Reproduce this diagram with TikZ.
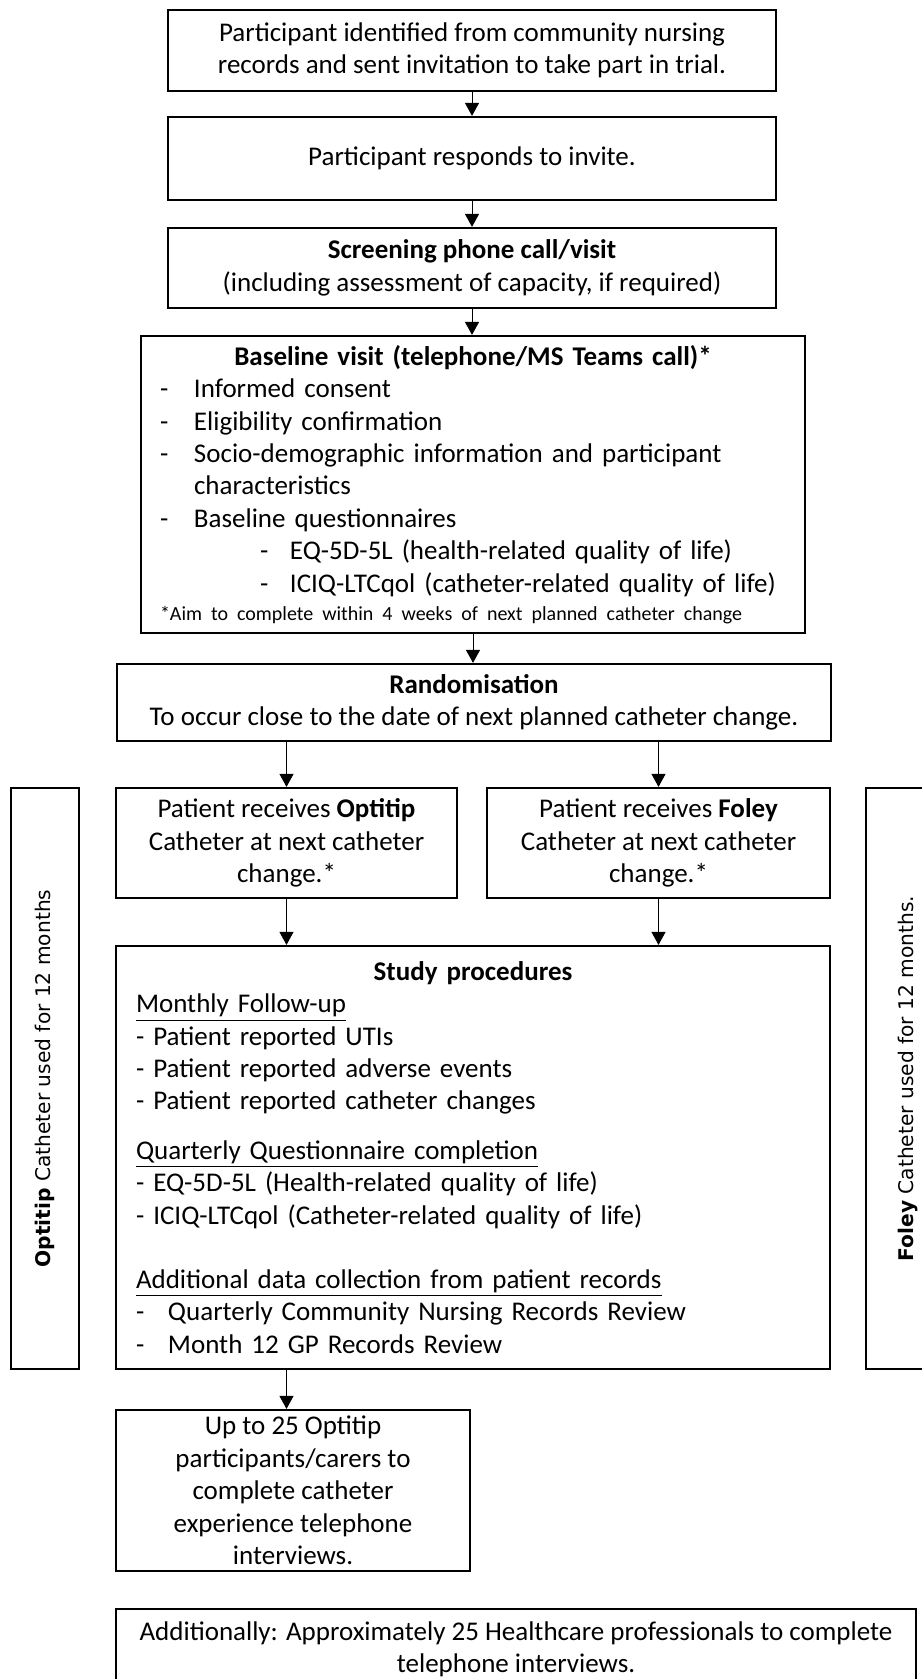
\documentclass[tikz,border=0pt]{standalone}
\usepackage{fontspec}
\setmainfont{Carlito}
\newfontfamily\sidefont{DejaVu Sans}
\usetikzlibrary{arrows.meta}

% пункт списка с дефисом
\newcommand{\dashitem}[3]{\par\hangindent=\dimexpr#1+#2\relax\hangafter=1\noindent\hspace*{#1}\makebox[#2][l]{-}#3}

\tikzset{
  stage/.style={draw, line width=1.1pt, align=center, inner sep=0pt,
    font=\fontsize{13.5}{16.2}\selectfont},
  side/.style={stage, rotate=90, font=\sidefont\fontsize{10.1}{12}\selectfont},
  arr/.style={-{Triangle[width=7pt,length=6.5pt]}, line width=0.5pt}
}

\begin{document}
\begin{tikzpicture}[x=0.5pt, y=-0.5pt]
\useasboundingbox (0,0) rectangle (921,1679);

% блоки
\node[stage, minimum width=304pt, minimum height=40.5pt] (first) at (472,50.5)
  {Participant identified from community nursing\\records and sent invitation to take part in trial.};
\node[stage, minimum width=304pt, minimum height=41.5pt] (respond) at (472,158.5)
  {Participant responds to invite.};
\node[stage, minimum width=304pt, minimum height=40pt] (screen) at (472,268)
  {\textbf{Screening phone call/visit}\\(including assessment of capacity, if required)};

\node[stage, text width=313pt, inner xsep=9.5pt, minimum height=148.5pt, align=left] (baseline) at (473,484.5) {%
  {\centering\textbf{Baseline visit (telephone/MS Teams call)*}\par}
  \dashitem{0pt}{17pt}{Informed consent}
  \dashitem{0pt}{17pt}{Eligibility confirmation}
  \dashitem{0pt}{17pt}{Socio-demographic information and participant\newline characteristics}
  \dashitem{0pt}{17pt}{Baseline questionnaires}
  \dashitem{50pt}{15pt}{EQ-5D-5L (health-related quality of life)}
  \dashitem{50pt}{15pt}{ICIQ-LTCqol (catheter-related quality of life)}
  \par{\fontsize{10}{14}\selectfont *Aim to complete within 4 weeks of next planned catheter change\par}};

\node[stage, minimum width=357pt, minimum height=38.5pt] (random) at (474,702.5)
  {\textbf{Randomisation}\\To occur close to the date of next planned catheter change.};

\node[stage, minimum width=170.5pt, minimum height=55pt] (optitip) at (286.5,843)
  {Patient receives \textbf{Optitip}\\Catheter at next catheter\\change.*};
\node[stage, minimum width=171.5pt, minimum height=55pt] (foley) at (658.5,843)
  {Patient receives \textbf{Foley}\\Catheter at next catheter\\change.*};

\node[stage, text width=337pt, inner xsep=10pt, minimum height=211.5pt, align=left] (study) at (473,1157.5) {%
  {\centering\textbf{Study procedures}\par}
  \underline{Monthly Follow-up}\par
  - Patient reported UTIs\par
  - Patient reported adverse events\par
  - Patient reported catheter changes\par
  \vspace{8.5pt}
  \underline{Quarterly Questionnaire completion}\par
  - EQ-5D-5L (Health-related quality of life)\par
  - ICIQ-LTCqol (Catheter-related quality of life)\par
  \vspace{16pt}
  \underline{Additional data collection from patient records}
  \dashitem{0pt}{16pt}{Quarterly Community Nursing Records Review}
  \dashitem{0pt}{16pt}{Month 12 GP Records Review}\par};

% боковые подписи
\node[side, minimum width=290.5pt, minimum height=34pt] (optitipside) at (45,1078.5)
  {\textbf{Optitip} Catheter used for 12 months};
\node[side, minimum width=290.5pt, minimum height=42pt] (foleyside) at (908,1078.5)
  {\textbf{Foley} Catheter used for 12 months.};

\node[stage, minimum width=177pt, minimum height=80.5pt] (interview) at (293,1490.5)
  {Up to 25 Optitip\\participants/carers to\\complete catheter\\experience telephone\\interviews.};
\node[stage, minimum width=400pt, minimum height=40pt] (extra) at (516,1649)
  {Additionally: Approximately 25 Healthcare professionals to complete\\telephone interviews.};

% стрелки
\foreach \a/\b in {first/respond, respond/screen, screen/baseline, baseline/random}
  \draw[arr] (\a.south) -- (\a.south |- \b.north);
\foreach \b in {optitip, foley}{
  \draw[arr] (random.south -| \b) -- (\b);
  \draw[arr] (\b) -- (\b |- study.north);
}
\draw[arr] (study.south -| optitip) -- (optitip |- interview.north);

\end{tikzpicture}
\end{document}
